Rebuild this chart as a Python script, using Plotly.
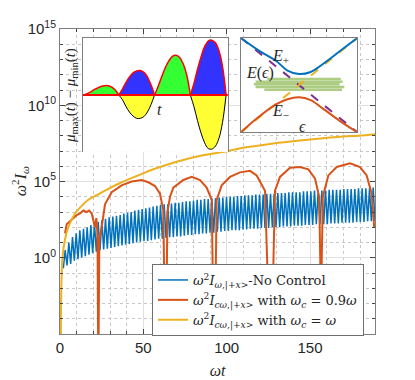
import plotly.graph_objects as go

# ---- main panel (y values stored as log10 exponents) ----
blue_dip_t = [2.0, 4.2, 6.4, 8.6, 10.8, 13.0, 15.2, 17.4, 19.6, 21.8,
              24.0, 26.2, 28.4, 30.6, 32.8, 35.0, 37.2, 39.4, 41.6, 43.8,
              46.0, 48.2, 50.4, 52.6, 54.8, 57.0, 59.2, 61.4, 63.6, 65.8,
              68.0, 70.2, 72.4, 74.6, 76.8, 79.0, 81.2, 83.4, 85.6, 87.8,
              90.0, 92.2, 94.4, 96.6, 98.8, 101.0, 103.2, 105.4, 107.6, 109.8,
              112.0, 114.2, 116.4, 118.6, 120.8, 123.0, 125.2, 127.4, 129.6, 131.8,
              134.0, 136.2, 138.4, 140.6, 142.8, 145.0, 147.2, 149.4, 151.6, 153.8,
              156.0, 158.2, 160.4, 162.6, 164.8, 167.0, 169.2, 171.4, 173.6, 175.8,
              178.0, 180.2, 182.4, 184.6, 186.8, 189.0]
blue_dip_log = [-0.7, -0.5, -0.4, -0.2, -0.1, 0.0, 0.1, 0.2, 0.3, 0.4,
                0.5, 0.55, 0.6, 0.65, 0.7, 0.75, 0.8, 0.85, 0.9, 0.95,
                1.0, 1.05, 1.1, 1.1, 1.15, 1.2, 1.25, 1.25, 1.3, 1.35,
                1.35, 1.4, 1.4, 1.45, 1.5, 1.5, 1.55, 1.55, 1.6, 1.6,
                1.65, 1.65, 1.7, 1.7, 1.75, 1.75, 1.8, 1.8, 1.8, 1.85,
                1.85, 1.9, 1.9, 1.9, 1.95, 1.95, 1.95, 2.0, 2.0, 2.0,
                2.05, 2.05, 2.05, 2.1, 2.1, 2.1, 2.15, 2.15, 2.15, 2.2,
                2.2, 2.2, 2.2, 2.25, 2.25, 2.25, 2.3, 2.3, 2.3, 2.3,
                2.35, 2.35, 2.35, 2.4, 2.4, 2.4]
blue_top_log = [0.5, 1.0, 1.35, 1.6, 1.8, 1.9, 2.0, 2.15, 2.25, 2.35,
                2.45, 2.55, 2.65, 2.7, 2.75, 2.8, 2.9, 2.95, 3.0, 3.1,
                3.15, 3.2, 3.25, 3.3, 3.35, 3.4, 3.45, 3.5, 3.5, 3.55,
                3.6, 3.6, 3.65, 3.7, 3.7, 3.75, 3.8, 3.8, 3.85, 3.85,
                3.9, 3.9, 3.95, 3.95, 4.0, 4.0, 4.0, 4.05, 4.05, 4.1,
                4.1, 4.1, 4.15, 4.15, 4.15, 4.2, 4.2, 4.2, 4.25, 4.25,
                4.25, 4.3, 4.3, 4.3, 4.3, 4.35, 4.35, 4.35, 4.4, 4.4,
                4.4, 4.4, 4.45, 4.45, 4.45, 4.45, 4.5, 4.5, 4.5, 4.5,
                4.55, 4.55, 4.55, 4.55, 4.6, 4.6]

orange_t = [3, 4, 6, 8, 10, 12, 14, 16, 17.5, 19,
            20, 21, 21.8, 22.5, 23.0, 23.6, 25, 27, 31, 37,
            43, 49, 53, 57, 60, 62, 63.3, 64.5, 66, 68,
            74, 79, 84, 88, 91, 92.6, 94, 97, 102, 108,
            114, 118, 123, 126.5, 129, 132, 138, 144, 149, 153,
            155.5, 156.6, 157.7, 161, 166, 174, 180, 184, 187, 188.5]
orange_log = [1.6, 2.2, 2.4, 2.6, 2.8, 2.9, 3.1, 3.0, 3.1, 2.9,
              2.4, 2.0, 2.6, 1.5, -8, 1.2, 2.0, 3.5, 4.3, 4.75,
              5.0, 5.1, 4.95, 4.7, 4.2, 3.1, -8, 3.0, 4.0, 4.6,
              5.1, 5.3, 5.1, 4.6, 3.8, -8, 3.8, 4.75, 5.3, 5.6,
              5.7, 5.4, 4.4, -8, 4.4, 5.3, 5.9, 5.95, 5.8, 5.2,
              4.0, -3.0, 4.0, 5.4, 5.95, 6.2, 5.95, 5.4, 4.2, 2.0]

yellow_t = [0.4, 0.8, 1.5, 3, 5, 9, 13, 17, 22, 27, 37, 47, 56, 70, 85,
            101, 109, 125, 150, 170, 179, 189]
yellow_log = [-8, -2, 0, 1.2, 2.0, 2.9, 3.4, 3.8, 4.1, 4.4, 4.95, 5.4, 5.8, 6.3, 6.7,
              7.0, 7.2, 7.45, 7.75, 7.95, 8.0, 8.1]

legend_names = [
    "<i>ω</i><sup>2</sup><i>I</i><sub><i>ω</i>,|+<i>x</i>&gt;</sub>-No Control",
    "<i>ω</i><sup>2</sup><i>I</i><sub><i>cω</i>,|+<i>x</i>&gt;</sub> with <i>ω<sub>c</sub></i> = 0.9<i>ω</i>",
    "<i>ω</i><sup>2</sup><i>I</i><sub><i>cω</i>,|+<i>x</i>&gt;</sub> with <i>ω<sub>c</sub></i> = <i>ω</i>",
]

# ---- inset 1: mu_max - mu_min lobes ----
mu_s = [0, 0.1, 0.2, 0.3, 0.4, 0.5, 0.6, 0.7, 0.8, 0.9, 1.0]
mu_lobe_start = [0, 1, 2, 3]
mu_upper = [[0, 0.02, 0.05, 0.09, 0.12, 0.15, 0.165, 0.165, 0.14, 0.09, 0],
            [0, 0.1, 0.22, 0.32, 0.39, 0.425, 0.43, 0.40, 0.32, 0.18, 0],
            [0, 0.15, 0.32, 0.48, 0.6, 0.68, 0.70, 0.66, 0.55, 0.35, 0],
            [0, 0.2, 0.45, 0.67, 0.85, 0.95, 0.965, 0.92, 0.78, 0.5, 0]]
mu_lower = [None,
            [0, -0.08, -0.2, -0.3, -0.37, -0.41, -0.41, -0.38, -0.3, -0.17, 0],
            None,
            [0, -0.2, -0.45, -0.67, -0.84, -0.94, -0.95, -0.9, -0.76, -0.48, 0]]
mu_fill = ["#33ff33", "#3333ff", "#33ff33", "#3333ff"]

# ---- inset 2: avoided crossing ----
eps_pts = [-1, -0.7, -0.4, -0.2, 0, 0.2, 0.4, 0.7, 1]
e_plus = [1.0, 0.74, 0.52, 0.31, 0.235, 0.28, 0.44, 0.72, 1.0]
e_minus = [-1.0, -0.68, -0.41, -0.3, -0.26, -0.32, -0.49, -0.76, -1.0]
diab_eps = [-1, 1]
diab_down = [1, -1]
diab_up = [-1, 1]
green_level = [0.13, 0.07, 0.02, -0.04, -0.1]
green_start = [-0.55, -0.75, -0.78, -0.75, -0.6]
green_end = [0.72, 0.75, 0.70, 0.78, 0.74]

BLUE, ORANGE, YELLOW = "#0072BD", "#D95319", "#EDB120"
PURPLE, GREEN = "#7E2F8E", "#77AC30"
SERIF = "Liberation Serif"
SANS = "Liberation Sans"
INK = "#262626"

fig = go.Figure()

# blue: dip then arch top half way to the next dip
bx, by = [], []
for i, t in enumerate(blue_dip_t):
    bx.append(t)
    by.append(10 ** blue_dip_log[i])
    bx.append(t + 1.1)
    by.append(10 ** blue_top_log[i])
fig.add_trace(go.Scatter(x=bx, y=by, mode="lines", line=dict(color=BLUE, width=1.5),
                         name=legend_names[0]))
fig.add_trace(go.Scatter(x=orange_t, y=[10 ** v for v in orange_log], mode="lines",
                         line=dict(color=ORANGE, width=2), name=legend_names[1]))
fig.add_trace(go.Scatter(x=yellow_t, y=[10 ** v for v in yellow_log], mode="lines",
                         line=dict(color=YELLOW, width=2, shape="spline"), name=legend_names[2]))

# inset 1
for k, s0 in enumerate(mu_lobe_start):
    xs = [s0 + s for s in mu_s]
    fig.add_trace(go.Scatter(x=xs, y=mu_upper[k], xaxis="x2", yaxis="y2", mode="lines",
                             fill="toself", fillcolor=mu_fill[k], showlegend=False,
                             line=dict(color="#ff0000", width=1.5, shape="spline")))
    if mu_lower[k] is not None:
        fig.add_trace(go.Scatter(x=xs, y=mu_lower[k], xaxis="x2", yaxis="y2", mode="lines",
                                 fill="toself", fillcolor="#ffff33", showlegend=False,
                                 line=dict(color="#000000", width=1, shape="spline")))
fig.add_trace(go.Scatter(x=[0, 4.05], y=[0, 0], xaxis="x2", yaxis="y2", mode="lines",
                         showlegend=False, line=dict(color="#ff0000", width=2)))

# inset 2
for k, lv in enumerate(green_level):
    fig.add_trace(go.Scatter(x=[green_start[k], green_end[k]], y=[lv, lv], xaxis="x3", yaxis="y3",
                             mode="lines", opacity=0.6, showlegend=False,
                             line=dict(color=GREEN, width=2.5)))
fig.add_trace(go.Scatter(x=diab_eps, y=diab_down, xaxis="x3", yaxis="y3", mode="lines",
                         showlegend=False, line=dict(color=PURPLE, width=2, dash="dash")))
fig.add_trace(go.Scatter(x=diab_eps, y=diab_up, xaxis="x3", yaxis="y3", mode="lines",
                         showlegend=False, line=dict(color=YELLOW, width=2, dash="dash")))
fig.add_trace(go.Scatter(x=eps_pts, y=e_plus, xaxis="x3", yaxis="y3", mode="lines",
                         showlegend=False, line=dict(color=BLUE, width=2, shape="spline")))
fig.add_trace(go.Scatter(x=eps_pts, y=e_minus, xaxis="x3", yaxis="y3", mode="lines",
                         showlegend=False, line=dict(color=ORANGE, width=2, shape="spline")))

tick_font = dict(family=SANS, size=15, color=INK)
frame = "#7f7f7f"

# the page body adds an 8px offset, so the figure is 8px smaller than the window
fig.update_layout(
    width=407, height=372,
    margin=dict(l=52, r=40, t=21, b=46),
    paper_bgcolor="white", plot_bgcolor="white",
    legend=dict(x=0.292, y=0.2295, xanchor="left", yanchor="top", bgcolor="white",
                bordercolor="#6e6e6e", borderwidth=1, tracegroupgap=0,
                font=dict(family="DejaVu Serif", size=13, color=INK)),
    xaxis=dict(range=[0, 189], tickvals=[0, 50, 100, 150], ticks="inside", ticklen=5,
               tickcolor="#444", showline=True, linecolor=frame, mirror="allticks",
               showgrid=True, gridcolor="#e0e0e0", zeroline=False, tickfont=tick_font,
               automargin=False,
               minor=dict(tickmode="array", tickvals=list(range(0, 190, 10)), ticks="inside",
                          ticklen=3, tickcolor="#444", showgrid=True, griddash="dot",
                          gridcolor="#c8c8c8"),
               title=dict(text="<i>ωt</i>", font=dict(family=SERIF, size=16, color=INK),
                          standoff=9)),
    yaxis=dict(type="log", range=[-5, 15], tickvals=[1, 1e5, 1e10, 1e15],
               ticktext=["10<sup>0</sup>", "10<sup>5</sup>", "10<sup>10</sup>", "10<sup>15</sup>"],
               ticks="inside", ticklen=5, tickcolor="#444", showline=True, linecolor=frame,
               mirror="allticks", showgrid=True, gridcolor="#e0e0e0", zeroline=False,
               tickfont=tick_font, automargin=False,
               minor=dict(tickmode="array", tickvals=[10.0 ** k for k in range(-5, 16)],
                          ticks="inside", ticklen=3, tickcolor="#444", showgrid=True,
                          griddash="dot", gridcolor="#c8c8c8")),
    xaxis2=dict(domain=[0.073, 0.533], anchor="y2", range=[0, 4.05], side="top",
                showline=True, linecolor=frame, showgrid=False, zeroline=False,
                showticklabels=False, ticks="", automargin=False),
    yaxis2=dict(domain=[0.597, 0.970], anchor="x2", range=[-1, 1], showline=True,
                mirror=True, linecolor=frame, showgrid=False, zeroline=False,
                showticklabels=False, ticks="", automargin=False,
                title=dict(text="<i>μ</i><sub>max</sub>(<i>t</i>) − <i>μ</i><sub>min</sub>(<i>t</i>)",
                           font=dict(family=SERIF, size=15, color=INK), standoff=2)),
    xaxis3=dict(domain=[0.575, 0.943], anchor="y3", range=[-1, 1], showline=True,
                mirror=True, linecolor=frame, showgrid=False, zeroline=False,
                showticklabels=False, ticks="", automargin=False),
    yaxis3=dict(domain=[0.662, 0.970], anchor="x3", range=[-1, 1], showline=True,
                mirror=True, linecolor=frame, showgrid=False, zeroline=False,
                showticklabels=False, ticks="", automargin=False),
    shapes=[
        dict(type="rect", xref="x2 domain", yref="y2 domain", x0=0, x1=1, y0=0, y1=1,
             fillcolor="white", line=dict(width=0), layer="below"),
        dict(type="rect", xref="x3 domain", yref="y3 domain", x0=0, x1=1, y0=0, y1=1,
             fillcolor="white", line=dict(width=0), layer="below"),
    ],
)

# main y label, placed close to the tick labels
fig.add_annotation(text="<i>ω</i><sup>2</sup><i>I</i><sub><i>ω</i></sub>", xref="paper",
                   yref="paper", x=-0.128, y=0.50, textangle=-90, xanchor="center",
                   yanchor="middle", showarrow=False, borderpad=0,
                   font=dict(family=SERIF, size=16, color=INK))

lab = dict(family=SERIF, size=16, color=INK)
inset_labels = [("<i>t</i>", "x2 domain", "y2 domain", 0.53, 0.377),
                ("<i>E</i><sub>+</sub>", "x3 domain", "y3 domain", 0.336, 0.80),
                ("<i>E</i>(<i>ϵ</i>)", "x3 domain", "y3 domain", 0.164, 0.628),
                ("<i>E</i><sub>−</sub>", "x3 domain", "y3 domain", 0.336, 0.223),
                ("<i>ϵ</i>", "x3 domain", "y3 domain", 0.526, 0.064)]
for txt, xr, yr, ax_, ay_ in inset_labels:
    fig.add_annotation(text=txt, xref=xr, yref=yr, x=ax_, y=ay_, xanchor="center",
                       yanchor="middle", showarrow=False, font=lab)

fig.write_html("out.html")
